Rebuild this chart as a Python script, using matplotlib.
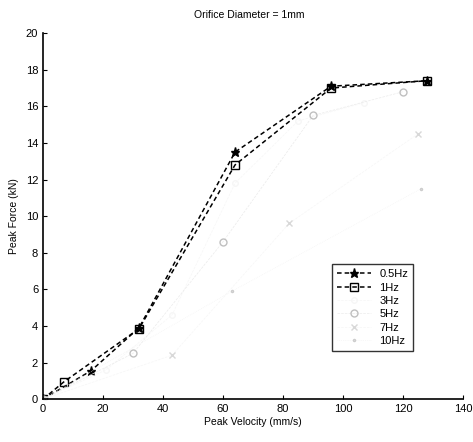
import matplotlib
matplotlib.use("Agg")
import matplotlib.pyplot as plt

plt.rcParams['font.family'] = ['Liberation Sans', 'DejaVu Sans']

x_05 = [0, 16, 32, 64, 96, 128]
y_05 = [0, 1.55, 3.9, 13.5, 17.1, 17.4]
x_1 = [0, 7, 32, 64, 96, 128]
y_1 = [0, 0.95, 3.85, 12.8, 17.0, 17.4]
x_3 = [0, 21, 43, 64, 85, 107]
y_3 = [0, 1.6, 4.6, 11.8, 15.2, 16.2]
x_5 = [0, 30, 60, 90, 120]
y_5 = [0, 2.5, 8.6, 15.5, 16.8]
x_7 = [0, 43, 82, 125]
y_7 = [0, 2.4, 9.6, 14.5]
x_10 = [0, 63, 126]
y_10 = [0, 5.9, 11.5]

xticks = [0, 20, 40, 60, 80, 100, 120, 140]
yticks = [0, 2, 4, 6, 8, 10, 12, 14, 16, 18, 20]

fig = plt.figure(figsize=(4.73, 4.42), dpi=100)
ax = fig.add_axes([0.091, 0.097, 0.888, 0.828])

ax.plot(x_05, y_05, linestyle=(0, (3, 2)), color='black', marker='*', markersize=6.5,
        linewidth=1.1, label='0.5Hz')
ax.plot(x_1, y_1, linestyle=(0, (3, 2)), color='black', marker='s', markersize=6,
        markerfacecolor='none', markeredgewidth=1.0, linewidth=1.1, label='1Hz')
ax.plot(x_3, y_3, linestyle='--', color='#f6f6f6', marker='o', markersize=4,
        markerfacecolor='none', linewidth=0.5, label='3Hz')
ax.plot(x_5, y_5, linestyle='--', color='#ebebeb', marker='o', markersize=5,
        markerfacecolor='none', markeredgecolor='#c0c0c0', linewidth=0.5, label='5Hz')
ax.plot(x_7, y_7, linestyle='--', color='#f6f6f6', marker='x', markersize=4,
        markeredgecolor='#d8d8d8', linewidth=0.5, label='7Hz')
ax.plot(x_10, y_10, linestyle=':', color='#f2f2f2', marker='.', markersize=3,
        markeredgecolor='#cccccc', linewidth=0.5, label='10Hz')

ax.set_xlim(0, 140)
ax.set_ylim(0, 20)
ax.set_xticks(xticks)
ax.set_yticks(yticks)
ax.tick_params(direction='in', length=3, labelsize=8, width=0.8)
for s in ['top', 'right']:
    ax.spines[s].set_visible(False)
for s in ['left', 'bottom']:
    ax.spines[s].set_linewidth(1.2)

ax.set_xlabel('Peak Velocity (mm/s)', fontsize=7.5, labelpad=2)
ax.set_ylabel('Peak Force (kN)', fontsize=7.5, labelpad=5)
ax.set_title('Orifice Diameter = 1mm', fontsize=7.5, pad=11, x=0.49)

leg = ax.legend(loc='center right', bbox_to_anchor=(0.895, 0.25), fontsize=8,
                frameon=True, fancybox=False, edgecolor='black',
                handlelength=3.0, borderpad=0.45, labelspacing=0.3)
leg.get_frame().set_linewidth(1.0)

fig.savefig('out.png', dpi=100)
